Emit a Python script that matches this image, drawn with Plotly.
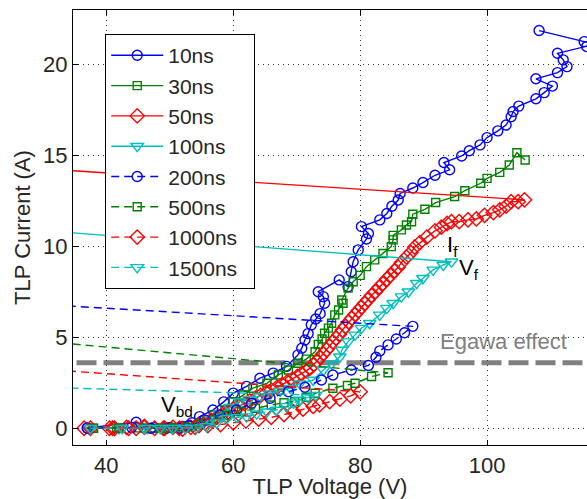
import plotly.graph_objects as go

# ---------------- data ----------------
x10 = [37.0, 44.7, 47.5, 50.0, 52.0, 53.5, 54.7, 56.8, 58.5, 60.0, 62.1, 64.2, 66.3, 68.4, 70.2, 70.8, 71.3, 71.8, 72.3, 73.0,
       73.7, 74.4, 74.2, 73.4, 76.7, 78.1, 78.6, 78.9, 79.7, 81.0, 81.3, 80.2, 83.1, 84.2, 85.0, 86.0, 86.3, 88.3, 89.9, 91.8,
       94.1, 93.2, 96.0, 97.2, 98.9, 100.0, 101.7, 103.0, 103.8, 104.1, 105.0, 107.7, 109.0, 110.3, 107.7, 111.1, 112.6, 112.0,
       111.1, 115.7, 117.0, 115.3, 108.2]
y10 = [0.02, 0.33, 0.05, 0.05, 0.1, 0.3, 0.64, 1.0, 1.45, 1.93, 2.3, 2.75, 3.03, 3.4, 4.03, 4.4, 4.85, 5.2, 5.68, 6.0,
       6.3, 6.87, 7.23, 7.5, 8.15, 7.78, 8.6, 9.15, 9.8, 10.4, 10.7, 11.08, 11.45, 11.8, 12.2, 12.54, 12.9, 13.2, 13.5, 13.9,
       14.2, 14.6, 14.96, 15.25, 15.57, 15.97, 16.34, 16.66, 17.12, 17.4, 17.7, 18.1, 18.44, 18.8, 19.2, 19.54, 19.87, 20.24,
       20.6, 20.97, 21.1, 21.24, 21.85]

x30 = [37.9, 41.6, 45.0, 47.1, 48.7, 50.5, 52.0, 53.5, 54.8, 55.8, 56.9, 58.7, 60.0, 61.6, 63.1, 65.3, 67.1, 68.7, 70.2, 71.5,
       72.9, 73.4, 74.0, 74.4, 75.0, 75.5, 76.0, 76.6, 77.3, 77.1, 78.1, 78.9, 80.0, 81.0, 82.3, 83.6, 84.9, 85.2, 85.2, 86.5,
       87.3, 88.1, 88.3, 90.2, 91.9, 94.9, 96.5, 99.0, 100.0, 102.0, 103.5, 104.7, 106.0]
y30 = [0, 0, 0.02, 0, 0.02, 0.05, 0.05, 0.15, 0.3, 0.46, 0.73, 1.0, 1.46, 1.83, 2.2, 2.47, 2.93, 3.2, 3.57, 3.8,
       4.2, 4.6, 4.9, 5.22, 5.5, 5.77, 6.23, 6.5, 6.87, 7.05, 7.7, 8.05, 8.4, 8.88, 9.25, 9.6, 9.98, 10.35, 10.6, 10.9,
       11.17, 11.35, 11.76, 12.03, 12.4, 12.73, 13.05, 13.46, 13.73, 14.06, 14.46, 15.14, 14.74]

x50 = [36.5, 40.5, 41.3, 43.2, 44.7, 46.0, 47.6, 49.2, 50.5, 52.0, 53.3, 54.6, 55.6, 56.5, 57.4, 58.3, 59.2, 60.0, 60.9, 61.8,
       62.6, 63.5, 64.3, 65.2, 66.0, 66.9, 67.7, 68.5, 69.3, 70.1, 70.8, 71.5, 72.1, 72.7, 73.2, 73.7, 74.2, 74.7, 75.2, 75.7,
       76.2, 76.7, 77.2, 77.7, 78.2, 78.7, 79.2, 79.7, 80.2, 80.7, 81.2, 81.8, 82.4, 83.0, 83.6, 84.2, 84.8, 85.4, 86.0, 86.5,
       87.3, 88.0, 88.6, 89.4, 90.5, 91.8, 92.8, 93.7, 94.4, 95.6, 97.0, 98.3, 99.6, 101.0, 102.0, 103.0, 103.8, 104.9, 105.9, 0.0]
y50 = [0, 0, 0, 0.05, 0, 0.1, 0, 0, 0.05, -0.05, 0.05, 0.15, 0.3, 0.45, 0.6, 0.75, 0.9, 1.05, 1.2, 1.35,
       1.5, 1.65, 1.8, 1.95, 2.1, 2.25, 2.4, 2.55, 2.7, 2.85, 3.0, 3.15, 3.3, 3.5, 3.7, 3.9, 4.1, 4.3, 4.5, 4.75,
       4.95, 5.15, 5.4, 5.6, 5.85, 6.05, 6.25, 6.45, 6.65, 6.85, 7.05, 7.3, 7.5, 7.75, 7.95, 8.2, 8.4, 8.65, 8.85, 9.1,
       9.4, 9.65, 9.95, 10.2, 10.5, 10.85, 11.05, 11.25, 11.35, 11.35, 11.45, 11.5, 11.7, 11.85, 12.0, 12.2, 12.45, 12.45, 12.55, 14.93]

x100 = [37.2, 42.0, 46.5, 49.5, 51.5, 53.5, 55.0, 56.5, 57.9, 59.5, 61.0, 62.5, 64.2, 65.8, 67.4, 69.0, 70.5, 72.6, 74.2, 75.5,
        76.8, 77.1, 78.1, 79.2, 80.2, 81.5, 83.1, 84.2, 85.2, 86.5, 87.6, 88.9, 89.9, 91.5, 93.1, 94.4, 0.0]
y100 = [0, 0, 0, 0, 0.02, 0.1, 0.25, 0.5, 0.82, 1.15, 1.46, 1.6, 1.74, 1.9, 2.05, 2.2, 2.45, 2.65, 3.2, 3.55,
        3.93, 4.3, 4.76, 5.13, 5.5, 5.77, 6.23, 6.6, 6.87, 7.23, 7.5, 7.97, 8.24, 8.7, 8.97, 9.15, 11.66]

x200 = [37.0, 44.0, 47.0, 49.5, 51.5, 53.0, 55.5, 57.9, 60.5, 62.9, 65.8, 68.7, 71.3, 73.9, 75.7, 78.6, 81.3, 82.5, 83.1, 84.4,
        85.7, 87.0, 88.3, 0.0]
y200 = [0, 0.05, 0, 0, 0, 0.15, 0.46, 0.73, 1.0, 1.37, 1.65, 2.01, 2.25, 2.65, 2.93, 3.2, 3.45, 3.9, 4.25, 4.58,
        4.9, 5.25, 5.6, 7.42]

x500 = [38.0, 42.0, 46.0, 48.5, 50.5, 52.5, 54.5, 56.9, 59.0, 61.3, 63.5, 66.0, 68.0, 69.7, 71.5, 72.9, 75.7, 78.0, 79.2, 81.8,
        84.4, 0.0]
y500 = [0, 0, 0.02, 0, 0, 0.05, 0.2, 0.46, 0.7, 0.91, 1.1, 1.28, 1.4, 1.46, 1.7, 1.92, 2.2, 2.35, 2.47, 2.84,
        3.05, 5.73]

x1000 = [37.5, 41.0, 43.5, 46.0, 49.0, 51.5, 54.0, 56.0, 58.0, 60.0, 62.0, 64.0, 66.0, 68.0, 69.5, 71.0, 72.6, 73.6, 75.2, 76.8,
         78.5, 80.0, 0.0]
y1000 = [0, 0, 0, 0.05, 0, 0, 0.05, 0.15, 0.2, 0.3, 0.4, 0.5, 0.6, 0.75, 0.9, 1.05, 1.2, 1.28, 1.46, 1.6,
         1.78, 2.0, 4.0]

x1500 = [37.5, 42.5, 46.0, 48.5, 50.5, 52.5, 54.2, 55.8, 57.4, 59.0, 60.6, 62.1, 63.7, 65.3, 66.8, 68.4, 69.5, 70.5, 71.8, 73.0, 0.0]
y1500 = [0, 0, 0, 0, 0, 0, 0.02, 0.1, 0.3, 0.55, 0.6, 0.64, 0.8, 0.91, 1.0, 1.2, 1.4, 1.55, 1.7, 1.82, 2.55]

names = ["10ns", "30ns", "50ns", "100ns", "200ns", "500ns", "1000ns", "1500ns"]
egawa_level = 3.6
x_ticks = [40, 60, 80, 100]
y_ticks = [0, 5, 10, 15, 20]

# ---------------- styles ----------------
BLUE, GREEN, RED, CYAN = "#0000FF", "#008000", "#FF0000", "#00BFBF"
series = [
    (x10, y10, BLUE, "circle-open", "solid", 10),
    (x30, y30, GREEN, "square-open", "solid", 8),
    (x50, y50, RED, "diamond-open", "solid", 11),
    (x100, y100, CYAN, "triangle-down-open", "solid", 11),
    (x200, y200, BLUE, "circle-open", "8px,5px", 10),
    (x500, y500, GREEN, "square-open", "8px,5px", 8),
    (x1000, y1000, RED, "diamond-open", "8px,5px", 11),
    (x1500, y1500, CYAN, "triangle-down-open", "8px,5px", 11),
]

FONT = "Liberation Sans, Arial, Helvetica, sans-serif"
TXT = "#262626"
PAD = "&nbsp;&nbsp;"

fig = go.Figure()
for (xs, ys, col, sym, dash, ms), nm in zip(series, names):
    fig.add_trace(go.Scatter(
        x=xs, y=ys, name=nm + PAD, legendgroup=nm, mode="lines+markers",
        line=dict(color=col, width=1.4, dash=dash),
        marker=dict(symbol=sym, size=ms, color=col, line=dict(color=col, width=1.4)),
    ))

fig.add_shape(type="line", xref="x", yref="y", x0=35.3, x1=116, y0=egawa_level, y1=egawa_level,
              line=dict(color="#808080", width=5, dash="20px,7px"), layer="below")

fig.add_annotation(x=102.6, y=4.75, text="Egawa effect", showarrow=False,
                   font=dict(family=FONT, size=22, color="#808080"))
fig.add_annotation(x=51.2, y=1.25, text="V<sub>bd</sub>", showarrow=False,
                   font=dict(family=FONT, size=22, color="black"))
fig.add_annotation(x=94.5, y=10.0, text="I<sub>f</sub>", showarrow=False,
                   font=dict(family=FONT, size=22, color="black"))
fig.add_annotation(x=97.1, y=8.75, text="V<sub>f</sub>", showarrow=False,
                   font=dict(family=FONT, size=22, color="black"))

axis_common = dict(
    showline=True, linecolor="black", linewidth=1.2,
    ticks="inside", ticklen=5, tickcolor="black",
    showgrid=True, gridcolor="#333333", gridwidth=1, griddash="1px,4px",
    zeroline=False, tickfont=dict(family=FONT, size=22, color=TXT),
)
fig.update_xaxes(range=[34.75, 115.75], tickvals=x_ticks, mirror="ticks",
                 title=dict(text="TLP Voltage (V)", font=dict(family=FONT, size=22, color=TXT), standoff=4),
                 **axis_common)
fig.update_yaxes(range=[-0.92, 22.98], tickvals=y_ticks, mirror=False,
                 title=dict(text="TLP Current (A)", font=dict(family=FONT, size=22, color=TXT), standoff=6),
                 **axis_common)

fig.update_layout(
    width=587, height=499,
    margin=dict(l=73, r=0, t=10, b=54, autoexpand=False),
    paper_bgcolor="white", plot_bgcolor="white",
    showlegend=True,
    legend=dict(x=0.0623, y=0.945, xanchor="left", yanchor="top",
                bgcolor="white", bordercolor="black", borderwidth=1.2,
                font=dict(family=FONT, size=21, color=TXT),
                tracegroupgap=0, itemwidth=52),
)

fig.write_html("out.html")
